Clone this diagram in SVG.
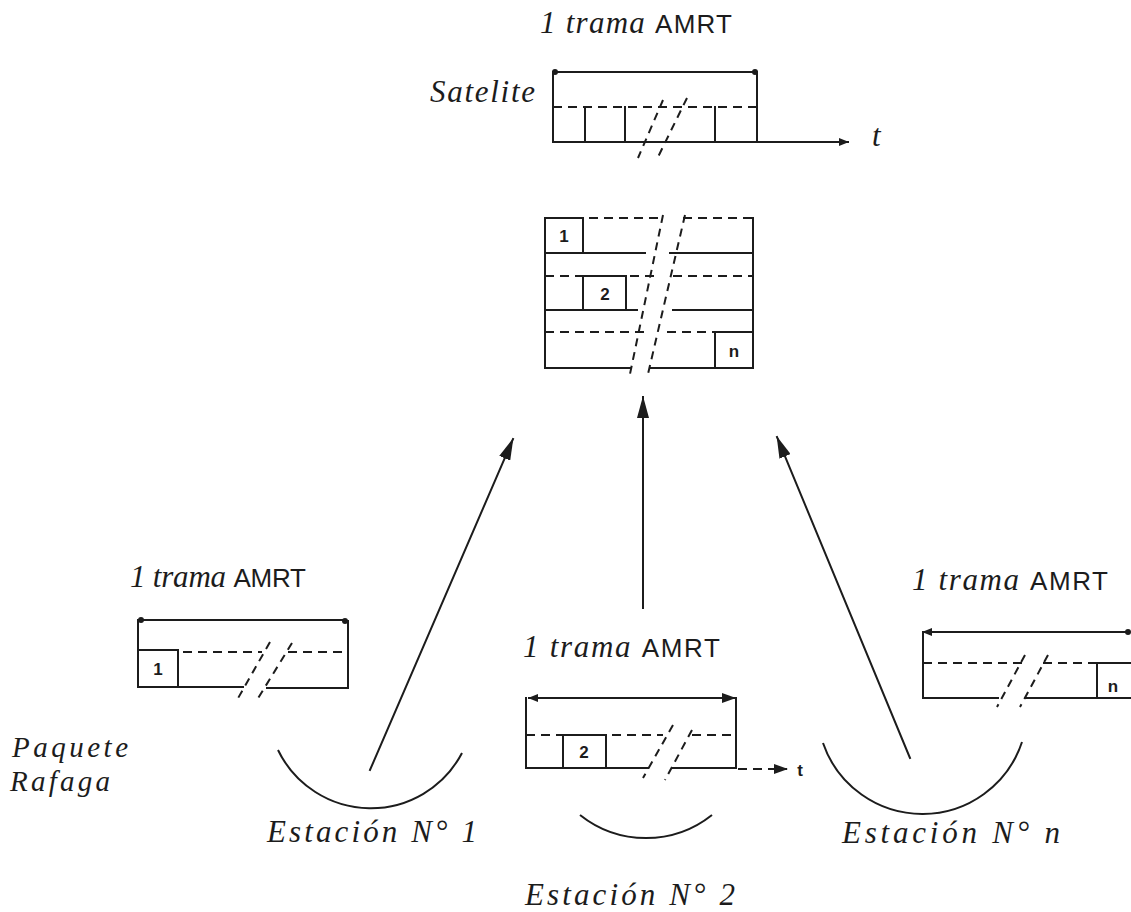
<svg xmlns="http://www.w3.org/2000/svg" width="1131" height="912" viewBox="0 0 1131 912">
<defs>
<style>
.s{stroke:#1c1c1c;stroke-width:2;fill:none;stroke-linecap:square}
.d{stroke:#1c1c1c;stroke-width:2;fill:none;stroke-dasharray:9 6}
.sl{stroke:#1c1c1c;stroke-width:2;fill:none;stroke-dasharray:8 6}
.arc{stroke:#1c1c1c;stroke-width:2;fill:none}
.hw{font-family:"Liberation Serif","DejaVu Serif",serif;font-style:italic;font-size:31px;fill:#1c1c1c}
.am{font-family:"Liberation Sans","DejaVu Sans",sans-serif;font-style:normal;font-size:26px}
.pq{font-size:29px}
.num{font-family:"Liberation Sans","DejaVu Sans",sans-serif;font-weight:bold;font-size:17px;fill:#1c1c1c;text-anchor:middle}
.dot{fill:#1c1c1c}
</style>
<marker id="ah" markerUnits="userSpaceOnUse" markerWidth="22" markerHeight="12" refX="21" refY="6" orient="auto">
<path d="M0,0 L22,6 L0,12 z" fill="#1c1c1c"/>
</marker>
<marker id="ahs" markerUnits="userSpaceOnUse" markerWidth="14" markerHeight="10" refX="13" refY="5" orient="auto-start-reverse">
<path d="M0,0 L14,5 L0,10 z" fill="#1c1c1c"/>
</marker>
<marker id="ahx" markerUnits="userSpaceOnUse" markerWidth="10" markerHeight="8" refX="9" refY="4" orient="auto-start-reverse">
<path d="M0,0 L10,4 L0,8 z" fill="#1c1c1c"/>
</marker>
</defs>
<rect width="1131" height="912" fill="#ffffff"/>

<g id="satellite">
<text class="hw" x="540" y="33" textLength="192" lengthAdjust="spacing">1 trama <tspan class="am">AMRT</tspan></text>
<text class="hw" x="430" y="102" textLength="105" lengthAdjust="spacing">Satelite</text>
<text class="hw" x="872" y="146">t</text>
<line class="s" x1="555" y1="72" x2="755" y2="72"/>
<circle class="dot" cx="555" cy="72" r="3"/>
<circle class="dot" cx="755" cy="72" r="3"/>
<line class="s" x1="553" y1="72" x2="553" y2="142"/>
<line class="s" x1="757" y1="72" x2="757" y2="142"/>
<line class="d" x1="553" y1="107" x2="757" y2="107"/>
<line class="s" x1="585" y1="107" x2="585" y2="142"/>
<line class="s" x1="625" y1="107" x2="625" y2="142"/>
<line class="s" x1="715" y1="107" x2="715" y2="142"/>
<line class="s" x1="553" y1="142" x2="848" y2="142" marker-end="url(#ahx)"/>
<line class="sl" x1="663" y1="100" x2="638" y2="158"/>
<line class="sl" x1="687" y1="98" x2="658" y2="157"/>
</g>

<g id="frame-satellite">
<line class="s" x1="545" y1="218" x2="545" y2="368"/>
<line class="s" x1="753" y1="218" x2="753" y2="368"/>
<line class="s" x1="545" y1="218" x2="583" y2="218"/>
<line class="s" x1="583" y1="218" x2="583" y2="253"/>
<line class="d" x1="589" y1="218" x2="662" y2="218"/>
<line class="d" x1="683" y1="218" x2="753" y2="218"/>
<line class="s" x1="545" y1="253" x2="645" y2="253"/>
<line class="s" x1="670" y1="253" x2="753" y2="253"/>
<line class="d" x1="545" y1="276" x2="583" y2="276"/>
<line class="s" x1="583" y1="276" x2="626" y2="276"/>
<line class="d" x1="630" y1="276" x2="655" y2="276"/>
<line class="d" x1="673" y1="276" x2="753" y2="276"/>
<line class="s" x1="583" y1="276" x2="583" y2="310"/>
<line class="s" x1="626" y1="276" x2="626" y2="310"/>
<line class="s" x1="545" y1="310" x2="637" y2="310"/>
<line class="s" x1="673" y1="310" x2="753" y2="310"/>
<line class="d" x1="545" y1="332" x2="645" y2="332"/>
<line class="d" x1="667" y1="332" x2="715" y2="332"/>
<line class="s" x1="715" y1="332" x2="753" y2="332"/>
<line class="s" x1="715" y1="332" x2="715" y2="368"/>
<line class="s" x1="545" y1="368" x2="630" y2="368"/>
<line class="s" x1="650" y1="368" x2="753" y2="368"/>
<line class="sl" x1="663" y1="215" x2="630" y2="374"/>
<line class="sl" x1="685" y1="215" x2="648" y2="374"/>
<text class="num" x="564" y="242">1</text>
<text class="num" x="605" y="300">2</text>
<text class="num" x="734" y="357">n</text>
</g>

<g id="station-1">
<text class="hw" x="130" y="587" textLength="176" lengthAdjust="spacing">1 trama <tspan class="am">AMRT</tspan></text>
<line class="s" x1="141" y1="620" x2="345" y2="620"/>
<circle class="dot" cx="141" cy="620" r="3"/>
<circle class="dot" cx="345" cy="621" r="3"/>
<line class="s" x1="138" y1="620" x2="138" y2="687"/>
<line class="s" x1="348" y1="621" x2="348" y2="687"/>
<line class="s" x1="138" y1="650" x2="178" y2="650"/>
<line class="s" x1="178" y1="650" x2="178" y2="687"/>
<line class="d" x1="183" y1="652" x2="262" y2="652"/>
<line class="d" x1="288" y1="652" x2="348" y2="652"/>
<line class="s" x1="138" y1="687" x2="243" y2="687"/>
<line class="s" x1="267" y1="688" x2="348" y2="688"/>
<line class="sl" x1="270" y1="642" x2="237" y2="700"/>
<line class="sl" x1="292" y1="643" x2="257" y2="700"/>
<text class="num" x="158" y="675">1</text>
<path class="arc" d="M278,750 A103,103 0 0 0 462,753"/>
<text class="hw pq" x="12" y="757" textLength="116" lengthAdjust="spacing">Paquete</text>
<text class="hw pq" x="10" y="791" textLength="100" lengthAdjust="spacing">Rafaga</text>
<text class="hw" x="267" y="842" textLength="210" lengthAdjust="spacing">Estación N° 1</text>
</g>

<g id="station-2">
<text class="hw" x="523" y="657" textLength="197" lengthAdjust="spacing">1 trama <tspan class="am">AMRT</tspan></text>
<line class="s" x1="529" y1="698" x2="735" y2="698" marker-start="url(#ahx)" marker-end="url(#ahs)"/>
<line class="s" x1="526" y1="698" x2="526" y2="768"/>
<line class="s" x1="736" y1="698" x2="736" y2="768"/>
<line class="d" x1="526" y1="735" x2="563" y2="735"/>
<line class="s" x1="563" y1="735" x2="606" y2="735"/>
<line class="d" x1="612" y1="735" x2="663" y2="735"/>
<line class="d" x1="692" y1="735" x2="736" y2="735"/>
<line class="s" x1="563" y1="735" x2="563" y2="768"/>
<line class="s" x1="606" y1="735" x2="606" y2="768"/>
<line class="s" x1="526" y1="768" x2="648" y2="768"/>
<line class="s" x1="673" y1="768" x2="736" y2="768"/>
<line class="sl" x1="673" y1="725" x2="643" y2="778"/>
<line class="sl" x1="692" y1="730" x2="665" y2="780"/>
<line class="d" x1="738" y1="769" x2="787" y2="769" marker-end="url(#ahs)"/>
<text class="num" x="800" y="776">t</text>
<text class="num" x="584" y="758">2</text>
<path class="arc" d="M580,815 A106,106 0 0 0 712,815"/>
<text class="hw" x="525" y="905" textLength="210" lengthAdjust="spacing">Estación N° 2</text>
</g>

<g id="station-n">
<text class="hw" x="912" y="590" textLength="196" lengthAdjust="spacing">1 trama <tspan class="am">AMRT</tspan></text>
<line class="s" x1="923" y1="632" x2="1128" y2="632" marker-start="url(#ahx)"/>
<circle class="dot" cx="1128" cy="632" r="3"/>
<line class="s" x1="923" y1="632" x2="923" y2="698"/>
<line class="d" x1="923" y1="663" x2="1022" y2="663"/>
<line class="d" x1="1043" y1="663" x2="1097" y2="663"/>
<line class="s" x1="1097" y1="663" x2="1131" y2="663"/>
<line class="s" x1="1097" y1="663" x2="1097" y2="698"/>
<line class="s" x1="923" y1="698" x2="998" y2="698"/>
<line class="s" x1="1025" y1="698" x2="1131" y2="698"/>
<line class="sl" x1="1025" y1="655" x2="997" y2="707"/>
<line class="sl" x1="1048" y1="655" x2="1020" y2="707"/>
<text class="num" x="1113" y="692">n</text>
<path class="arc" d="M823,743 A105,105 0 0 0 1022,742"/>
<text class="hw" x="842" y="843" textLength="218" lengthAdjust="spacing">Estación N° n</text>
</g>

<g id="connectors">
<line class="s" x1="370" y1="770" x2="513" y2="439" marker-end="url(#ah)"/>
<line class="s" x1="643" y1="608" x2="643" y2="397" marker-end="url(#ah)"/>
<line class="s" x1="910" y1="758" x2="777" y2="437" marker-end="url(#ah)"/>
</g>
</svg>
